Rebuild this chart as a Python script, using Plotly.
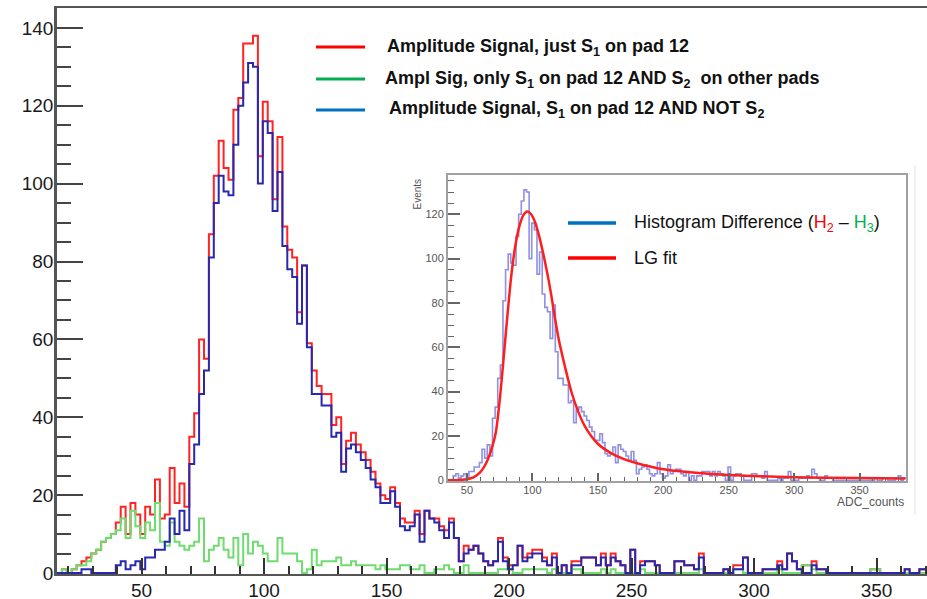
import numpy as np
import plotly.graph_objects as go

# ---------------- data ----------------
bin_low = 15.5          # ADC counts, low edge of first bin
bin_width = 2.0

red_counts = [
    0, 1, 0, 1, 2, 3, 4, 5, 6, 8,
    9, 10, 13, 17, 10, 18, 15, 10, 17, 15,
    24, 14, 15, 27, 18, 23, 17, 35, 41, 60,
    55, 87, 102, 111, 104, 101, 119, 122, 136, 136,
    138, 107, 121, 116, 96, 112, 89, 83, 81, 67,
    79, 59, 52, 48, 46, 46, 38, 40, 28, 34,
    36, 33, 31, 29, 26, 23, 20, 19, 22, 18,
    14, 13, 13, 16, 10, 16, 14, 14, 12, 11,
    14, 9, 3, 7, 6, 7, 5, 3, 2, 3,
    9, 4, 2, 2, 7, 4, 5, 6, 6, 4,
    2, 5, 0, 2, 0, 3, 3, 4, 4, 4,
    2, 5, 2, 5, 3, 2, 0, 6, 0, 3,
    3, 3, 2, 0, 0, 0, 3, 3, 2, 2,
    1, 5, 0, 0, 0, 0, 1, 0, 2, 2,
    4, 0, 0, 0, 1, 1, 1, 3, 1, 5,
    3, 1, 2, 2, 3, 1, 1, 0, 0, 0,
    0, 0, 0, 0, 0, 0, 1, 1, 0, 0,
    0, 0, 0, 1, 0, 0, 1, 1, 0, 0,
    0, 1, 2, 0, 1,
]

green_counts = [
    0, 1, 0, 1, 2, 2, 3, 5, 6, 8,
    9, 10, 11, 14, 9, 16, 12, 9, 13, 11,
    18, 8, 7, 13, 8, 7, 6, 7, 8, 14,
    3, 6, 7, 9, 6, 4, 9, 2, 10, 5,
    8, 7, 5, 3, 3, 9, 5, 5, 5, 3,
    0, 1, 6, 2, 3, 3, 3, 4, 2, 2,
    3, 2, 2, 2, 2, 1, 2, 1, 1, 1,
    2, 2, 1, 1, 2, 0, 0, 1, 1, 2,
    1, 0, 0, 2, 0, 0, 0, 0, 0, 0,
    1, 1, 1, 0, 0, 1, 1, 1, 1, 1,
    0, 1, 0, 0, 0, 1, 1, 0, 0, 0,
    0, 1, 0, 1, 0, 0, 0, 0, 0, 1,
    0, 0, 0, 0, 0, 0, 0, 0, 0, 0,
    0, 1, 0, 0, 0, 0, 0, 0, 1, 1,
    0, 0, 0, 0, 0, 0, 0, 1, 0, 0,
    0, 0, 2, 2, 1, 0, 0, 0, 0, 0,
    0, 0, 0, 0, 0, 0, 1, 1, 0, 0,
    0, 0, 0, 0, 0, 0, 0, 0, 0, 0,
    0, 0, 0, 0, 0,
]

blue_counts = [
    0, 0, 0, 0, 0, 1, 1, 0, 0, 0,
    0, 0, 2, 3, 1, 2, 3, 1, 4, 4,
    6, 6, 8, 14, 10, 16, 11, 28, 33, 46,
    52, 81, 95, 102, 98, 97, 110, 120, 126, 131,
    130, 100, 116, 113, 93, 103, 84, 78, 76, 64,
    79, 58, 46, 46, 43, 43, 35, 36, 26, 32,
    33, 31, 29, 27, 24, 22, 18, 18, 21, 17,
    12, 11, 12, 15, 8, 16, 14, 13, 11, 9,
    13, 9, 3, 5, 6, 7, 5, 3, 2, 3,
    8, 3, 1, 2, 7, 3, 4, 5, 5, 3,
    2, 4, 0, 2, 0, 2, 2, 4, 4, 4,
    2, 4, 2, 4, 3, 2, 0, 6, 0, 2,
    3, 3, 2, 0, 0, 0, 3, 3, 2, 2,
    1, 4, 0, 0, 0, 0, 1, 0, 1, 1,
    4, 0, 0, 0, 1, 1, 1, 2, 1, 5,
    3, 1, 0, 0, 2, 1, 1, 0, 0, 0,
    0, 0, 0, 0, 0, 0, 0, 0, 0, 0,
    0, 0, 0, 1, 0, 0, 1, 1, 0, 0,
    0, 1, 2, 0, 1,
]

# Landau-Gauss fit curve
fit_x = [35.5, 45, 50, 55, 60, 63, 66, 69, 72, 75, 78, 81, 84, 87, 90, 93, 96,
         99, 102, 105, 108, 111, 114, 117, 120, 125, 130, 135, 140, 150, 160,
         170, 180, 200, 225, 250, 300, 350, 385]
fit_y = [0.05, 0.2, 0.5, 1.3, 3.6, 6.0, 9.5, 14.5, 21.5, 36, 55, 75, 93, 106,
         114.5, 119.5, 121.2, 120, 116.5, 110.5, 103, 94.5, 85, 74, 64, 51,
         39.5, 31, 24.5, 16.5, 12.3, 9.6, 7.7, 5.0, 3.4, 2.4, 1.4, 1.0, 0.8]

main_xticks = [50, 100, 150, 200, 250, 300, 350]
main_yticks = [0, 20, 40, 60, 80, 100, 120, 140]
inset_xticks = [50, 100, 150, 200, 250, 300, 350]
inset_yticks = [0, 20, 40, 60, 80, 100, 120]

legend_main = [
    ("Amplitude Signal, just S<sub>1</sub> on pad 12", "#ff0000"),
    ("Ampl Sig, only S<sub>1</sub> on pad 12 AND S<sub>2</sub>  on other pads", "#00b050"),
    ("Amplitude Signal, S<sub>1</sub> on pad 12 AND NOT S<sub>2</sub>", "#0070c0"),
]
legend_inset = [
    ("Histogram Difference (<span style='color:#ff0000'>H<sub>2</sub></span> \u2013 "
     "<span style='color:#00b050'>H<sub>3</sub></span>)", "#0070c0"),
    ("LG fit", "#ff0000"),
]

# ---------------- geometry ----------------
W, H = 927, 599
L, R, T, B = 57, 0, 8, 25
PW, PH = W - L - R, H - T - B


def fx(p):  # pixel x -> paper
    return (p - L) / PW


def fy(p):  # pixel y -> paper
    return (H - B - p) / PH


n = len(blue_counts)
edges = bin_low + bin_width * np.arange(n + 1)


def step(vals):
    return list(vals) + [vals[-1]]


FONT = "Liberation Sans, Arial, sans-serif"

fig = go.Figure()
fig.add_trace(go.Scatter(x=edges, y=step(red_counts), mode="lines",
                         line=dict(color="rgb(255,35,35)", width=2, shape="hv"),
                         showlegend=False, hoverinfo="skip"))
fig.add_trace(go.Scatter(x=edges, y=step(green_counts), mode="lines",
                         line=dict(color="rgb(110,220,110)", width=2, shape="hv"),
                         showlegend=False, hoverinfo="skip"))
fig.add_trace(go.Scatter(x=edges, y=step(blue_counts), mode="lines",
                         line=dict(color="rgb(40,40,175)", width=2, shape="hv"),
                         showlegend=False, hoverinfo="skip"))

# inset
fig.add_trace(go.Scatter(x=edges, y=step(blue_counts), mode="lines",
                         xaxis="x2", yaxis="y2",
                         line=dict(color="rgba(95,95,215,0.7)", width=1.6, shape="hv"),
                         showlegend=False, hoverinfo="skip"))
fig.add_trace(go.Scatter(x=fit_x, y=fit_y, mode="lines", xaxis="x2", yaxis="y2",
                         line=dict(color="rgb(255,30,30)", width=2.5, shape="spline",
                                   smoothing=0.8),
                         showlegend=False, hoverinfo="skip"))

inset_x0, inset_x1 = 448, 906
inset_y0, inset_y1 = 175, 481

fig.update_layout(
    width=W, height=H,
    margin=dict(l=L, r=R, t=T, b=B, pad=0, autoexpand=False),
    paper_bgcolor="white", plot_bgcolor="white",
    font=dict(family=FONT),
    xaxis=dict(
        range=[15.5, 370.6], showgrid=False, zeroline=False, automargin=False,
        showline=True, linecolor="#555555", linewidth=2, mirror=True,
        ticks="inside", ticklen=16, tickwidth=2, tickcolor="#333333",
        tickmode="array", tickvals=main_xticks,
        minor=dict(tickmode="array", tickvals=list(range(20, 371, 10)),
                   ticks="inside", ticklen=8, tickwidth=1.5, tickcolor="#333333"),
        tickfont=dict(size=19, color="#1a1a1a", family=FONT),
        ticklabelstandoff=-2,
    ),
    yaxis=dict(
        range=[-0.25, 145.1], showgrid=False, zeroline=False, automargin=False,
        showline=True, linecolor="#555555", linewidth=2.5,
        ticks="inside", ticklen=26, tickwidth=2, tickcolor="#444444",
        tickmode="array", tickvals=main_yticks,
        minor=dict(tickmode="array", tickvals=list(range(0, 146, 5)),
                   ticks="inside", ticklen=14, tickwidth=2, tickcolor="#444444"),
        tickfont=dict(size=19, color="#1a1a1a", family=FONT),
        ticklabelstandoff=-3,
    ),
    xaxis2=dict(
        domain=[fx(inset_x0), fx(inset_x1)], anchor="y2", automargin=False,
        range=[35.5, 385.5], showgrid=False, zeroline=False,
        showline=True, linecolor="#a0a0a0", linewidth=2, mirror=True,
        ticks="inside", ticklen=8, tickwidth=1.5, tickcolor="#666666",
        tickmode="array", tickvals=inset_xticks,
        minor=dict(tickmode="array", tickvals=list(range(40, 386, 10)),
                   ticks="inside", ticklen=4, tickwidth=1.2, tickcolor="#666666"),
        tickfont=dict(size=11, color="#555555", family=FONT),
        ticklabelstandoff=-2,
    ),
    yaxis2=dict(
        domain=[fy(inset_y1), fy(inset_y0)], anchor="x2", automargin=False,
        range=[-0.3, 137.7], showgrid=False, zeroline=False,
        showline=True, linecolor="#a0a0a0", linewidth=2, mirror=True,
        ticks="inside", ticklen=12, tickwidth=1.5, tickcolor="#666666",
        tickmode="array", tickvals=inset_yticks,
        minor=dict(tickmode="array", tickvals=list(range(0, 137, 5)),
                   ticks="inside", ticklen=6, tickwidth=1.2, tickcolor="#666666"),
        tickfont=dict(size=11, color="#555555", family=FONT),
        ticklabelstandoff=0,
    ),
)

shapes = []
annotations = []

# main legend
leg_y = [47, 79, 110]
leg_tx = [385, 383, 387]
for (txt, col), yy, tx in zip(legend_main, leg_y, leg_tx):
    shapes.append(dict(type="line", xref="paper", yref="paper",
                       x0=fx(316), x1=fx(365), y0=fy(yy), y1=fy(yy),
                       line=dict(color=col, width=3)))
    annotations.append(dict(text="<b>" + txt + "</b>", xref="paper", yref="paper",
                            x=fx(tx), y=fy(yy), xanchor="left", yanchor="middle",
                            showarrow=False,
                            font=dict(size=18, color="#111111", family=FONT)))

# inset legend
ileg_y = [223, 258]
for (txt, col), yy in zip(legend_inset, ileg_y):
    shapes.append(dict(type="line", xref="paper", yref="paper",
                       x0=fx(568), x1=fx(616), y0=fy(yy), y1=fy(yy),
                       line=dict(color=col, width=3.5)))
    annotations.append(dict(text=txt, xref="paper", yref="paper",
                            x=fx(632), y=fy(yy), xanchor="left", yanchor="middle",
                            showarrow=False,
                            font=dict(size=18, color="#111111", family=FONT)))

# inset axis titles
annotations.append(dict(text="Events", xref="paper", yref="paper",
                        x=fx(417), y=fy(177), xanchor="center", yanchor="top",
                        textangle=-90, showarrow=False,
                        font=dict(size=10, color="#555555", family=FONT)))
annotations.append(dict(text="ADC_counts", xref="paper", yref="paper",
                        x=fx(906), y=fy(502), xanchor="right", yanchor="middle",
                        showarrow=False,
                        font=dict(size=12, color="#555555", family=FONT)))

# faint edge of the pasted inset
shapes.append(dict(type="line", xref="paper", yref="paper",
                   x0=fx(915), x1=fx(915), y0=fy(165), y1=fy(515),
                   line=dict(color="#ececec", width=1.5)))

fig.update_layout(shapes=shapes, annotations=annotations)

fig.write_html("out.html")
